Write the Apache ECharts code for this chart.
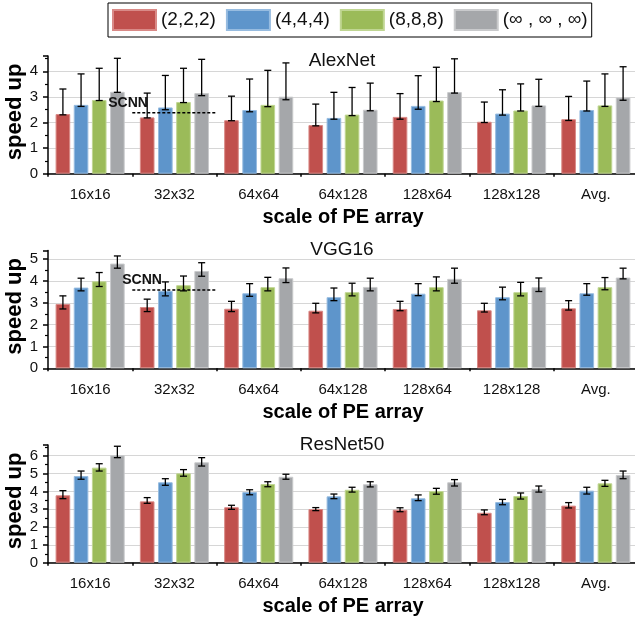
<!DOCTYPE html>
<html><head><meta charset="utf-8">
<script src="https://cdn.jsdelivr.net/npm/echarts@6/dist/echarts.min.js"></script>
<style>html,body{margin:0;padding:0;background:#fff}#c{width:635px;height:621px}</style>
</head><body><div id="c"></div>
<script>
// ---------- data ----------
const categories = ['16x16','32x32','64x64','64x128','128x64','128x128','Avg.'];
const configNames = ['(2,2,2)','(4,4,4)','(8,8,8)','(∞ , ∞ , ∞)'];
const panelTitles = ['AlexNet','VGG16','ResNet50'];
const yMax = [4.6, 5.4, 6.6];
const yInterval = 1;

const alexMean = [
  [2.33, 2.20, 2.09, 1.90, 2.22, 2.03, 2.13],
  [2.69, 2.59, 2.49, 2.18, 2.65, 2.35, 2.49],
  [2.88, 2.80, 2.69, 2.31, 2.86, 2.47, 2.67],
  [3.20, 3.15, 3.01, 2.50, 3.19, 2.67, 2.98]
];
const alexLow = [
  [2.30, 2.18, 2.07, 1.87, 2.13, 2.00, 2.08],
  [2.63, 2.50, 2.42, 2.13, 2.52, 2.29, 2.45],
  [2.86, 2.78, 2.62, 2.27, 2.82, 2.45, 2.63],
  [3.18, 3.05, 2.89, 2.46, 3.15, 2.63, 2.87]
];
const alexHigh = [
  [3.31, 3.15, 3.03, 2.72, 3.13, 2.80, 3.02],
  [3.90, 3.84, 3.70, 3.18, 3.83, 3.28, 3.62],
  [4.12, 4.12, 4.04, 3.37, 4.16, 3.51, 3.90],
  [4.51, 4.47, 4.33, 3.54, 4.49, 3.69, 4.18]
];

const vggMean = [
  [2.95, 2.81, 2.73, 2.64, 2.72, 2.66, 2.75],
  [3.70, 3.55, 3.44, 3.26, 3.42, 3.26, 3.44],
  [3.99, 3.81, 3.72, 3.49, 3.72, 3.49, 3.72],
  [4.80, 4.46, 4.13, 3.73, 4.10, 3.72, 4.16]
];
const vggLow = [
  [2.72, 2.60, 2.60, 2.54, 2.64, 2.58, 2.67],
  [3.55, 3.32, 3.30, 3.10, 3.33, 3.14, 3.35],
  [3.75, 3.55, 3.55, 3.32, 3.55, 3.32, 3.60],
  [4.59, 4.22, 3.93, 3.55, 3.90, 3.52, 4.10]
];
const vggHigh = [
  [3.32, 3.17, 3.07, 2.98, 3.07, 2.98, 3.10],
  [4.13, 3.96, 3.88, 3.68, 3.88, 3.72, 3.88],
  [4.39, 4.23, 4.17, 3.90, 4.19, 3.94, 4.16],
  [5.15, 4.84, 4.60, 4.13, 4.59, 4.14, 4.59]
];

const resMean = [
  [3.78, 3.44, 3.11, 3.01, 2.97, 2.80, 3.20],
  [4.86, 4.51, 3.96, 3.72, 3.61, 3.40, 4.04],
  [5.33, 5.01, 4.41, 4.09, 4.02, 3.74, 4.45],
  [6.02, 5.63, 4.82, 4.40, 4.51, 4.13, 4.92]
];
const resLow = [
  [3.59, 3.33, 2.99, 2.92, 2.86, 2.69, 3.07],
  [4.68, 4.34, 3.81, 3.59, 3.48, 3.25, 3.85],
  [5.14, 4.85, 4.26, 3.96, 3.84, 3.57, 4.28],
  [5.89, 5.42, 4.68, 4.25, 4.30, 3.96, 4.71]
];
const resHigh = [
  [4.04, 3.65, 3.22, 3.09, 3.08, 2.96, 3.37],
  [5.14, 4.71, 4.09, 3.85, 3.80, 3.55, 4.23],
  [5.55, 5.22, 4.54, 4.23, 4.17, 3.91, 4.62],
  [6.53, 5.89, 4.96, 4.54, 4.66, 4.30, 5.14]
];

// SCNN reference line: [category index, value] per panel
const scnnAlex = [1, 2.38];
const scnnVgg = [1, 3.59];

// ---------- styling / layout ----------
const FONT = 'Liberation Sans, Arial, sans-serif';
const colors = ['#C0504D', '#5E95CB', '#9BBB59', '#A5A7AA'];
const borderColors = ['#D98A87', '#97BCE0', '#C0D693', '#C9CACC'];
const CAT_GAP = 0.18, BAR_GAP = 0.24;
const gridBoxes = [
  {left: 48, width: 590, top: 56, height: 117.7},
  {left: 48, width: 590, top: 250.5, height: 117.8},
  {left: 48, width: 590, top: 445, height: 117.7}
];
const titleTops = [51, 240, 435];
const scnnText = [{dx: -24, dy: -10}, {dx: -10, dy: -9.5}];

const means = [alexMean, vggMean, resMean];
const lows = [alexLow, vggLow, resLow];
const highs = [alexHigh, vggHigh, resHigh];
const scnns = [scnnAlex, scnnVgg, null];

function errRender(params, api) {
  const c = api.value(0), s = api.value(1);
  const bw = api.size([1, 0])[0];
  const barW = bw * (1 - CAT_GAP) / (4 + 3 * BAR_GAP);
  const groupW = barW * (4 + 3 * BAR_GAP);
  const cx = api.coord([c, 0])[0] - groupW / 2 + s * barW * (1 + BAR_GAP) + barW / 2;
  const yLo = api.coord([c, api.value(2)])[1];
  const yHi = api.coord([c, api.value(3)])[1];
  const cap = 3.5;
  const st = {stroke: '#000', lineWidth: 1.3};
  return {type: 'group', children: [
    {type: 'line', shape: {x1: cx, y1: yHi, x2: cx, y2: yLo}, style: st},
    {type: 'line', shape: {x1: cx - cap, y1: yHi, x2: cx + cap, y2: yHi}, style: st},
    {type: 'line', shape: {x1: cx - cap, y1: yLo, x2: cx + cap, y2: yLo}, style: st}
  ]};
}

function scnnRender(off) {
  return function (params, api) {
    const c = api.value(0), v = api.value(1);
    const bw = api.size([1, 0])[0];
    const p = api.coord([c, v]);
    const x0 = p[0] - bw / 2, y = p[1];
    return {type: 'group', children: [
      {type: 'line', shape: {x1: x0, y1: y, x2: x0 + bw, y2: y},
       style: {stroke: '#000', lineWidth: 1.5, lineDash: [3, 2]}},
      {type: 'text', style: {x: x0 + off.dx, y: y + off.dy, text: 'SCNN',
        fontFamily: FONT, fontSize: 14, fontWeight: 'bold', fill: '#111',
        align: 'left', verticalAlign: 'middle'}}
    ]};
  };
}

const grid = [], xAxis = [], yAxis = [], series = [], title = [];
for (let i = 0; i < 3; i++) {
  grid.push(Object.assign({containLabel: false, outerBoundsMode: 'none'}, gridBoxes[i]));
  title.push({text: panelTitles[i], left: gridBoxes[i].left + 294, top: titleTops[i],
    textAlign: 'center', padding: 0,
    textStyle: {fontFamily: FONT, fontSize: 19, fontWeight: 'normal', color: '#111'}});
  xAxis.push({
    type: 'category', gridIndex: i, data: categories, position: 'bottom',
    axisLine: {lineStyle: {color: '#000', width: 1.5}},
    axisTick: {alignWithLabel: true, length: 5, lineStyle: {color: '#000', width: 1.5}},
    axisLabel: {fontFamily: FONT, fontSize: 15, color: '#111', margin: 14},
    name: 'scale of PE array', nameLocation: 'middle', nameGap: 34, nameMoveOverlap: false,
    nameTextStyle: {fontFamily: FONT, fontSize: 20, fontWeight: 'bold', color: '#000'}
  });
  xAxis.push({
    type: 'category', gridIndex: i, data: categories, position: 'bottom',
    axisLine: {show: false},
    axisTick: {show: true, length: 3, lineStyle: {color: '#000', width: 1.5}},
    axisLabel: {show: false}, splitLine: {show: false}
  });
  yAxis.push({
    type: 'value', gridIndex: i, min: 0, max: yMax[i], interval: yInterval,
    axisLine: {show: true, lineStyle: {color: '#000', width: 1.5}},
    axisTick: {show: true, length: 5, lineStyle: {color: '#000', width: 1.5}},
    minorTick: {show: true, splitNumber: 2, length: 3, lineStyle: {color: '#000', width: 1.2}},
    splitLine: {show: true, showMaxLine: false, lineStyle: {color: '#d6d6d6', width: 1}},
    axisLabel: {fontFamily: FONT, fontSize: 15, color: '#111', margin: 10,
      formatter: v => (Math.abs(v - Math.round(v)) < 1e-9 ? String(Math.round(v)) : '')},
    name: 'speed up', nameLocation: 'middle', nameGap: 22, nameMoveOverlap: false,
    nameTextStyle: {fontFamily: FONT, fontSize: 22, fontWeight: 'bold', color: '#000', padding: [0, 0, 0, 6]}
  });
  for (let s = 0; s < 4; s++) {
    series.push({
      type: 'bar', name: configNames[s], xAxisIndex: i * 2, yAxisIndex: i,
      data: means[i][s], barCategoryGap: (CAT_GAP * 100) + '%', barGap: (BAR_GAP * 100) + '%',
      itemStyle: {color: colors[s], borderColor: borderColors[s], borderWidth: 1},
      emphasis: {disabled: true}, animation: false
    });
  }
  const errData = [];
  for (let c = 0; c < categories.length; c++)
    for (let s = 0; s < 4; s++) errData.push([c, s, lows[i][s][c], highs[i][s][c]]);
  series.push({type: 'custom', xAxisIndex: i * 2, yAxisIndex: i, renderItem: errRender,
    data: errData, encode: {x: 0, y: [2, 3]}, z: 5, silent: true, animation: false});
  if (scnns[i]) {
    series.push({type: 'custom', xAxisIndex: i * 2, yAxisIndex: i, renderItem: scnnRender(scnnText[i]),
      data: [scnns[i]], encode: {x: 0, y: 1}, z: 6, silent: true, animation: false});
  }
}

const chart = echarts.init(document.getElementById('c'), null, {renderer: 'canvas'});
chart.setOption({
  animation: false,
  backgroundColor: '#fff',
  title: title,
  legend: {
    data: configNames, left: 108, top: 3, itemWidth: 43, itemHeight: 20, itemGap: 10,
    icon: 'rect', padding: [6, 4, 6, 4], borderColor: '#000', borderWidth: 1,
    textStyle: {fontFamily: FONT, fontSize: 19, color: '#111'}, selectedMode: false
  },
  grid: grid, xAxis: xAxis, yAxis: yAxis, series: series
});
</script></body></html>
